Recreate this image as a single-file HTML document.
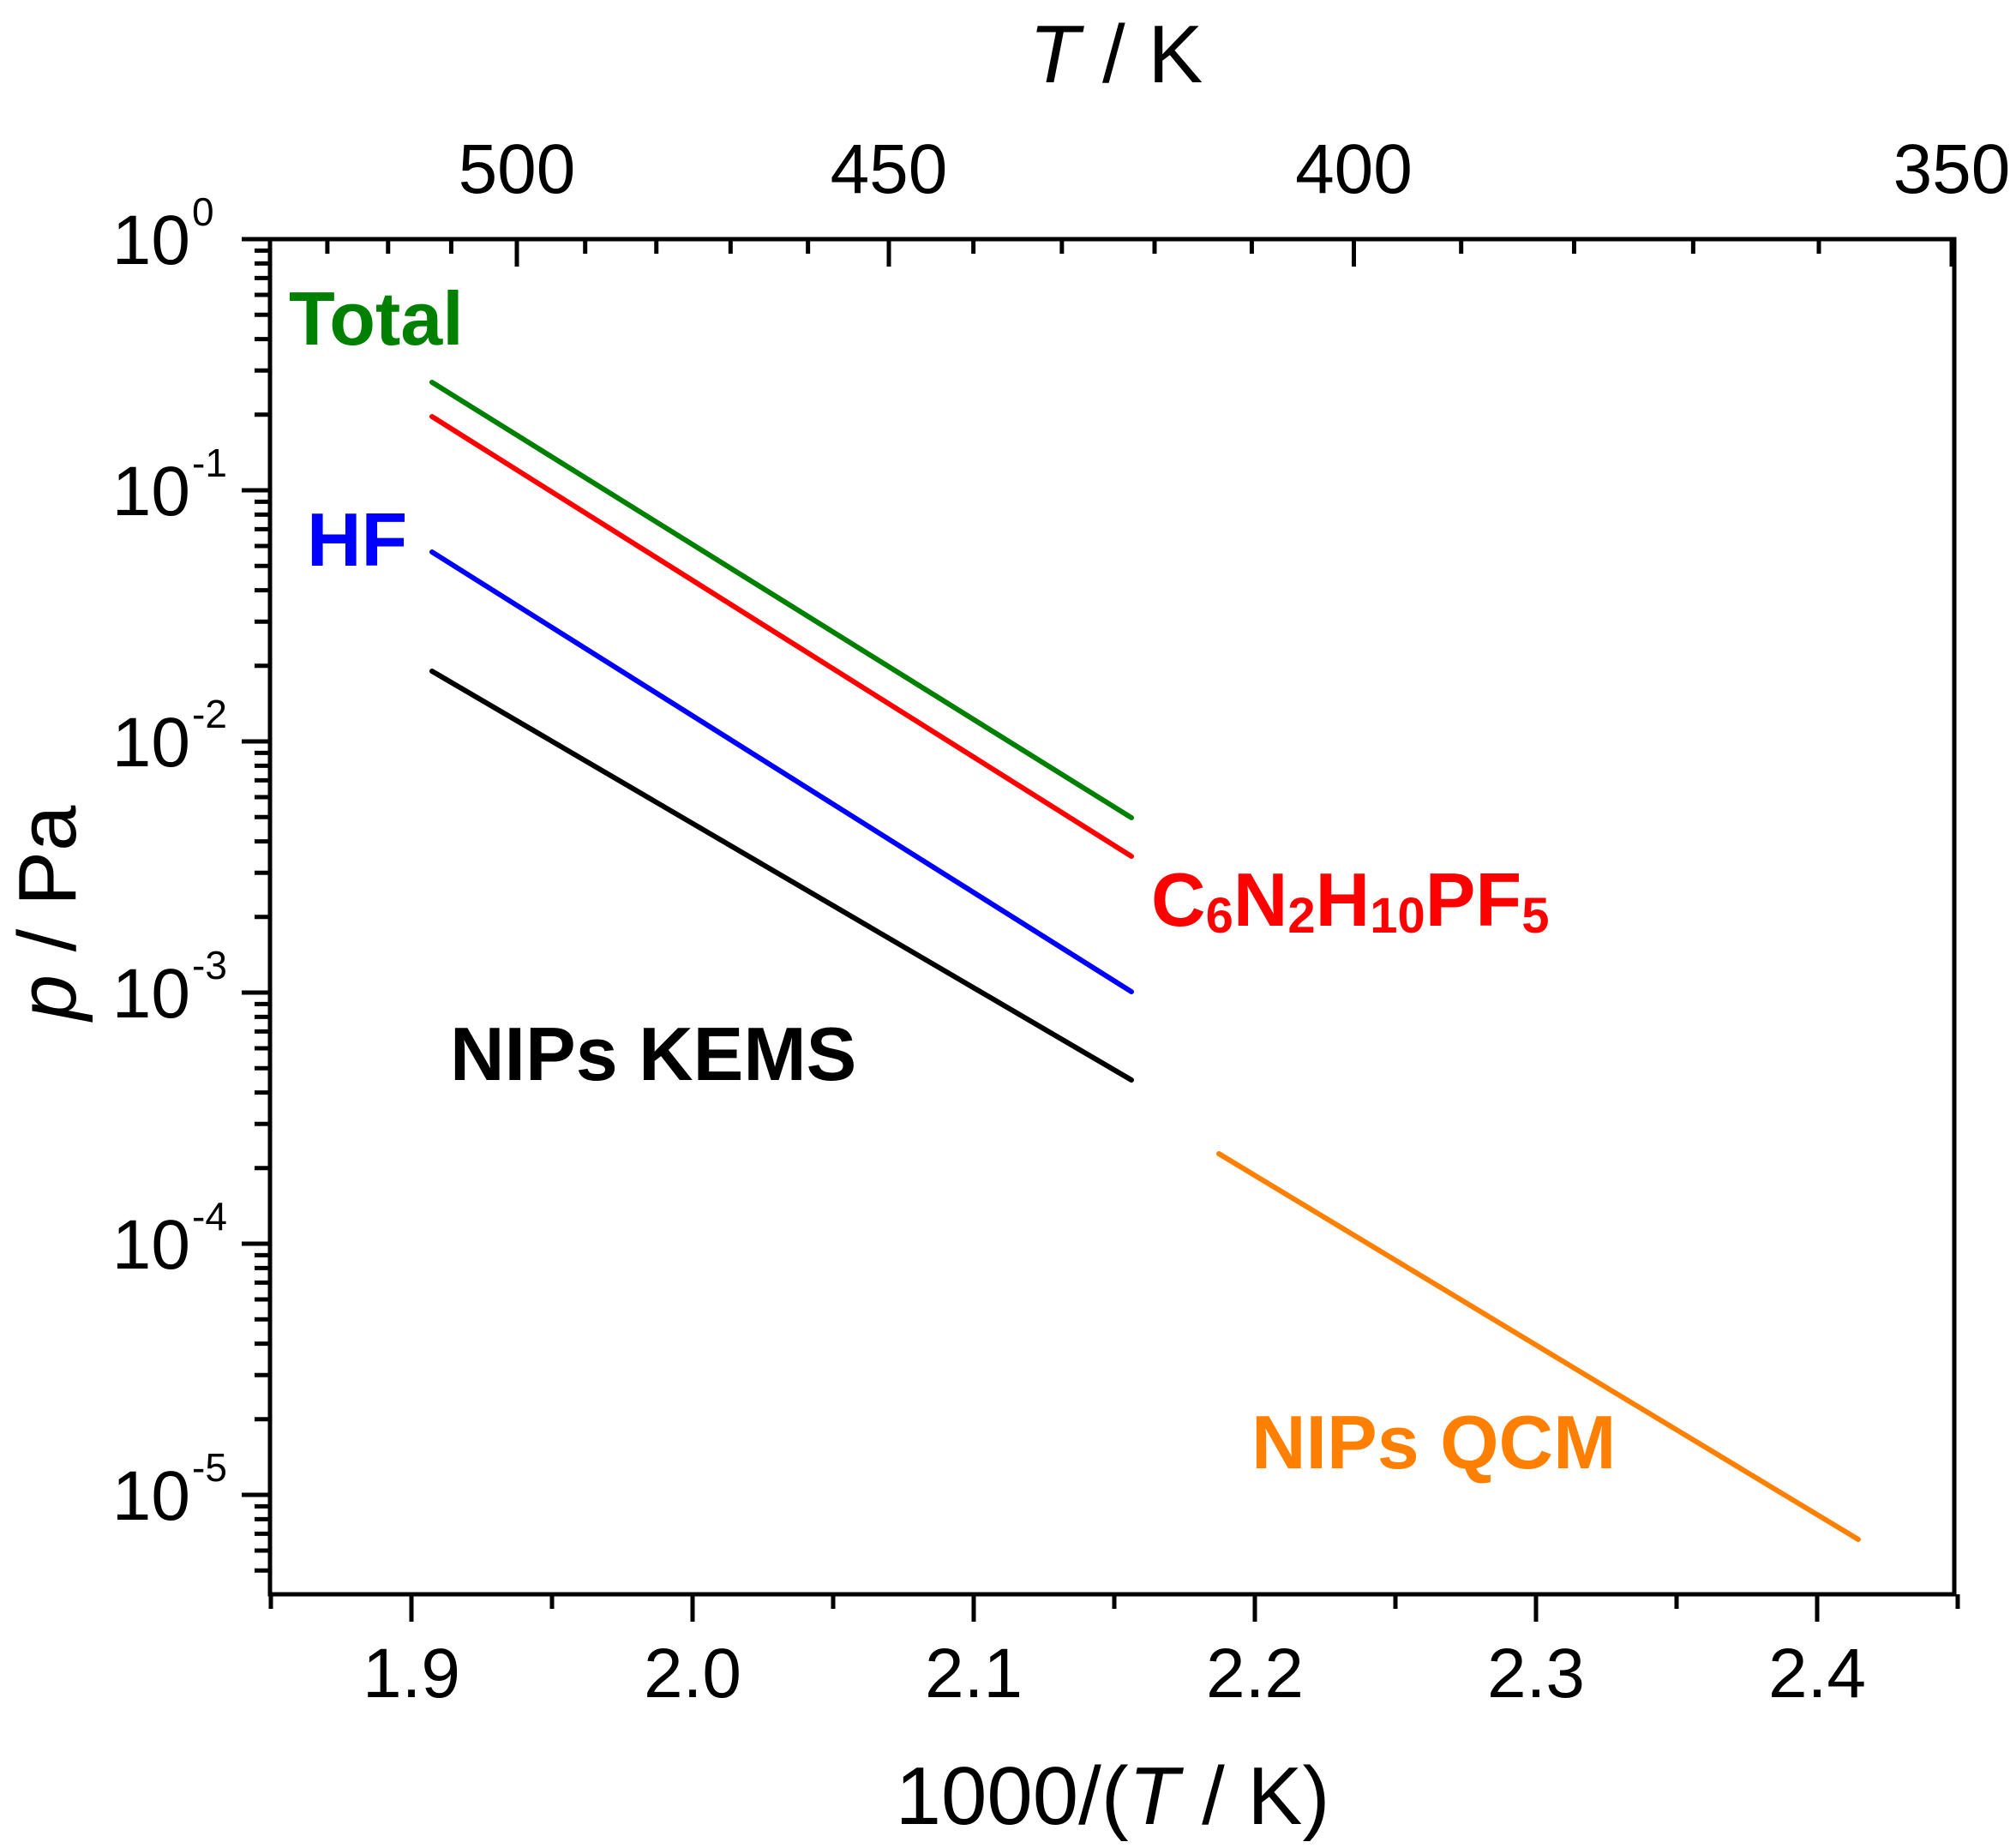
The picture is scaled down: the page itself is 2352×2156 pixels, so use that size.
<!DOCTYPE html>
<html><head><meta charset="utf-8"><style>html,body{margin:0;padding:0;background:#fff}svg{display:block}</style></head>
<body>
<svg width="2352" height="2156" viewBox="0 0 2352 2156" xmlns="http://www.w3.org/2000/svg" font-family="Liberation Sans, Arial, sans-serif">
<rect width="2352" height="2156" fill="#fff"/>
<g id="ticks" stroke="#000" stroke-width="5"></g>
<rect x="315" y="279" width="1965" height="1581" fill="none" stroke="#000" stroke-width="5"/>
<g stroke-width="6" stroke-linecap="round" fill="none">
<line x1="504" y1="446" x2="1320" y2="954" stroke="#008000"/>
<line x1="504" y1="486" x2="1320" y2="999" stroke="#ff0000"/>
<line x1="504" y1="644" x2="1320" y2="1157" stroke="#0000ff"/>
<line x1="504" y1="783" x2="1320" y2="1260" stroke="#000"/>
<line x1="1422" y1="1346" x2="2168" y2="1796" stroke="#ff8000"/>
</g>
<g font-weight="bold" font-size="88">
<text x="337" y="402" fill="#008000">Total</text>
<text x="358" y="660" fill="#0000ff">HF</text>
<text x="1343" y="1080" fill="#ff0000">C<tspan font-size="58" dy="8">6</tspan><tspan dy="-8">N</tspan><tspan font-size="58" dy="8">2</tspan><tspan dy="-8">H</tspan><tspan font-size="58" dy="8">10</tspan><tspan dy="-8">PF</tspan><tspan font-size="58" dy="8">5</tspan></text>
<text x="525" y="1260" fill="#000">NIPs KEMS</text>
<text x="1460" y="1713" fill="#ff8000">NIPs QCM</text>
</g>
<g id="labels" font-size="82" fill="#000"></g>
<text x="1298" y="2128" font-size="96" text-anchor="middle">1000/(<tspan font-style="italic">T</tspan> / K)</text>
<text x="1302" y="96" font-size="96" text-anchor="middle"><tspan font-style="italic">T</tspan> / K</text>
<text transform="translate(88,1065) rotate(-90)" font-size="96" text-anchor="middle"><tspan font-style="italic">p</tspan> / Pa</text>
<script>
var NS="http://www.w3.org/2000/svg",t=document.getElementById("ticks"),L=document.getElementById("labels");
function ln(a,b,c,d){var e=document.createElementNS(NS,"line");e.setAttribute("x1",a);e.setAttribute("y1",b);e.setAttribute("x2",c);e.setAttribute("y2",d);t.appendChild(e);}
function tx(x,y,s,anc,fs){var e=document.createElementNS(NS,"text");e.setAttribute("x",x);e.setAttribute("y",y);if(anc)e.setAttribute("text-anchor",anc);if(fs)e.setAttribute("font-size",fs);e.textContent=s;L.appendChild(e);return e;}
function X(v){return 316+(v-1.85)*3280;}
for(var i=0;i<=12;i++){var v=1.85+i*0.05,x=X(v),maj=(i%2==1);ln(x,1860,x,maj?1892:1877);if(maj)tx(x,1980,v.toFixed(1),"middle");}
function Y(e){return 279+(-e)*293;}
for(var d=0;d>=-5;d--){var y=Y(d);ln(282,y,315,y);
 var g=tx(222,y+29,"10","end");
 tx(224,y-16,d==0?"0":"-"+(-d),"start",46);
 for(var m=2;m<=9;m++){var yy=Y(d-1+Math.log10(m));if(yy<=1860&&yy>279)ln(297,yy,315,yy);}}
function XT(T){return 603+(1000/T-2)*1953;}
for(var T=530;T>=350;T-=10){var x=XT(T),maj=(T%50==0);ln(x,279,x,maj?311:296);if(maj)tx(x,225,""+T,"middle");}
</script>
</svg>
</body></html>
